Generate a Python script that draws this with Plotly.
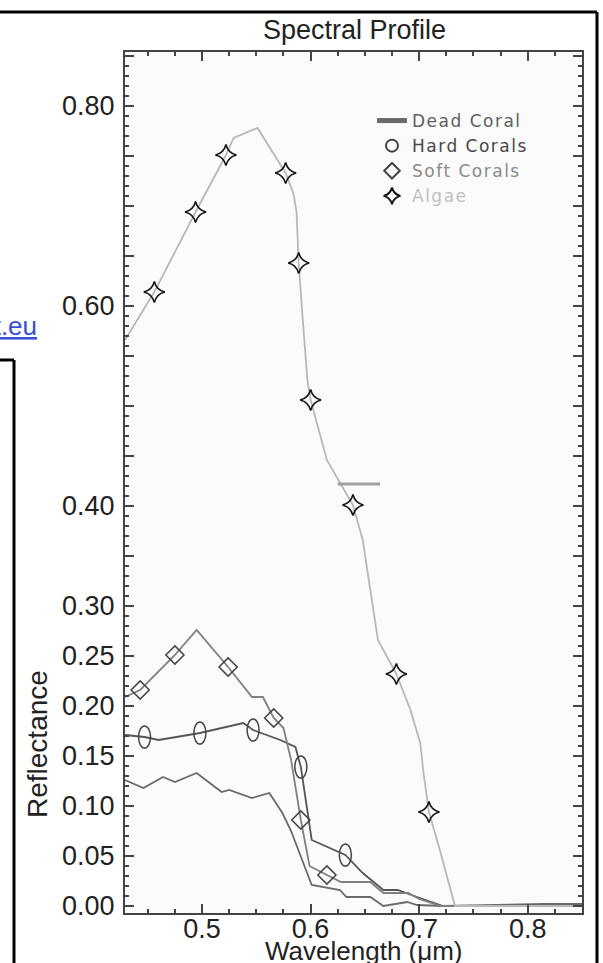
import plotly.graph_objects as go

# ---------------- data ----------------
algae_wl = [0.429, 0.456, 0.494, 0.522, 0.529, 0.551, 0.577, 0.584, 0.587, 0.589,
            0.593, 0.597, 0.600, 0.615, 0.624, 0.639, 0.648, 0.656, 0.662, 0.679,
            0.692, 0.701, 0.704, 0.709, 0.719, 0.733, 0.850]
algae_r = [0.566, 0.614, 0.694, 0.751, 0.768, 0.778, 0.733, 0.713, 0.695, 0.643,
           0.583, 0.526, 0.506, 0.446, 0.429, 0.401, 0.366, 0.306, 0.266, 0.232,
           0.196, 0.163, 0.133, 0.094, 0.056, 0.000, 0.000]
algae_mk_wl = [0.456, 0.494, 0.522, 0.577, 0.589, 0.600, 0.639, 0.679, 0.709]
algae_mk_r = [0.614, 0.694, 0.751, 0.733, 0.643, 0.506, 0.401, 0.232, 0.094]

soft_wl = [0.429, 0.443, 0.475, 0.495, 0.524, 0.546, 0.556, 0.566, 0.575, 0.582,
           0.591, 0.599, 0.615, 0.628, 0.655, 0.667, 0.690, 0.700, 0.720, 0.850]
soft_r = [0.209, 0.216, 0.251, 0.276, 0.239, 0.209, 0.209, 0.188, 0.178, 0.146,
          0.086, 0.040, 0.031, 0.024, 0.024, 0.013, 0.013, 0.007, 0.000, 0.000]
soft_mk_wl = [0.443, 0.475, 0.524, 0.566, 0.591, 0.615]
soft_mk_r = [0.216, 0.251, 0.239, 0.188, 0.086, 0.031]

hard_wl = [0.429, 0.447, 0.460, 0.498, 0.538, 0.547, 0.572, 0.586, 0.591, 0.601,
           0.632, 0.648, 0.667, 0.680, 0.698, 0.722, 0.850]
hard_r = [0.171, 0.169, 0.166, 0.173, 0.183, 0.176, 0.166, 0.159, 0.139, 0.066,
          0.051, 0.033, 0.016, 0.016, 0.009, 0.000, 0.000]
hard_mk_wl = [0.447, 0.498, 0.547, 0.591, 0.632]
hard_mk_r = [0.169, 0.173, 0.176, 0.139, 0.051]

dead_wl = [0.429, 0.446, 0.464, 0.475, 0.495, 0.518, 0.525, 0.546, 0.562, 0.574,
           0.582, 0.590, 0.601, 0.627, 0.633, 0.655, 0.667, 0.689, 0.698, 0.722,
           0.815, 0.850]
dead_r = [0.126, 0.118, 0.129, 0.124, 0.133, 0.114, 0.116, 0.108, 0.113, 0.093,
          0.075, 0.053, 0.021, 0.016, 0.009, 0.009, 0.000, 0.004, 0.001, 0.000,
          0.002, 0.002]

stray_wl = [0.625, 0.664]
stray_r = [0.422, 0.422]

series_names = ["Dead Coral", "Hard Corals", "Soft Corals", "Algae"]

y_tick_vals = [0.00, 0.05, 0.10, 0.15, 0.20, 0.25, 0.30, 0.35, 0.40, 0.45,
               0.50, 0.55, 0.60, 0.65, 0.70, 0.75, 0.80, 0.85]
y_tick_text = ["0.00", "0.05", "0.10", "0.15", "0.20", "0.25", "0.30", "", "0.40", "",
               "", "", "0.60", "", "", "", "0.80", ""]
x_tick_vals = [0.5, 0.6, 0.7, 0.8]
x_tick_text = ["0.5", "0.6", "0.7", "0.8"]

# ---------------- layout geometry ----------------
W, H = 603, 963
ML, MR, MT, MB = 125, 21, 52, 50
PW, PH = W - ML - MR, H - MT - MB


def px(x):
    return (x - ML) / PW


def py(y):
    return (H - MB - y) / PH


FONT = "Liberation Sans, Arial, sans-serif"
LEG_FONT = "DejaVu Sans, Verdana, sans-serif"
LS = "letter-spacing:1.5px;"

fig = go.Figure()

# lines
fig.add_trace(go.Scatter(x=dead_wl, y=dead_r, mode="lines",
                         name=f"<span style='color:#5e5e5e;{LS}'>{series_names[0]}</span>",
                         line=dict(color="#6a6a6a", width=1.8)))
fig.add_trace(go.Scatter(x=hard_wl, y=hard_r, mode="lines", showlegend=False,
                         line=dict(color="#555555", width=1.8)))
fig.add_trace(go.Scatter(x=soft_wl, y=soft_r, mode="lines", showlegend=False,
                         line=dict(color="#808080", width=1.8)))
fig.add_trace(go.Scatter(x=algae_wl, y=algae_r, mode="lines", showlegend=False,
                         line=dict(color="#b8b8b8", width=1.8)))
fig.add_trace(go.Scatter(x=stray_wl, y=stray_r, mode="lines", showlegend=False,
                         line=dict(color="#a0a0a0", width=3)))

# markers
fig.add_trace(go.Scatter(x=[None], y=[None], mode="markers",
                         name=f"<span style='color:#474747;{LS}'>{series_names[1]}</span>",
                         marker=dict(symbol="circle-open", size=14, color="#444444",
                                     line=dict(width=1.5, color="#444444"))))
fig.add_trace(go.Scatter(x=soft_mk_wl, y=soft_mk_r, mode="markers",
                         name=f"<span style='color:#8a8a8a;{LS}'>{series_names[2]}</span>",
                         marker=dict(symbol="diamond-open", size=14, color="#444444",
                                     line=dict(width=1.5, color="#444444"))))
fig.add_trace(go.Scatter(x=algae_mk_wl, y=algae_mk_r, mode="markers",
                         name=f"<span style='color:#c0c0c0;{LS}'>{series_names[3]}</span>",
                         marker=dict(symbol="star-diamond-open", size=15, color="#151515",
                                     line=dict(width=1.6, color="#151515"))))

# hard coral ellipse markers (anchored on data, pixel-sized)
for xv, yv in zip(hard_mk_wl, hard_mk_r):
    fig.add_shape(type="circle", xref="x", yref="y", xsizemode="pixel", ysizemode="pixel",
                  xanchor=xv, yanchor=yv, x0=-6, x1=6, y0=-11, y1=11,
                  line=dict(color="#444444", width=1.5), fillcolor="rgba(0,0,0,0)")

# page frame lines
frame = dict(color="black", width=3)
fig.add_shape(type="line", xref="paper", yref="paper", x0=px(0), x1=px(597), y0=py(12), y1=py(12), line=frame)
fig.add_shape(type="line", xref="paper", yref="paper", x0=px(597), x1=px(597), y0=py(12), y1=py(963), line=frame)
fig.add_shape(type="line", xref="paper", yref="paper", x0=px(0), x1=px(14), y0=py(360), y1=py(360), line=frame)
fig.add_shape(type="line", xref="paper", yref="paper", x0=px(14), x1=px(14), y0=py(360), y1=py(963), line=frame)

fig.add_annotation(text="<u>rt.eu</u>", xref="paper", yref="paper", x=px(39), y=py(326),
                   xanchor="right", yanchor="middle", showarrow=False,
                   font=dict(family=FONT, size=26, color="#3a4fd6"))

# titles
fig.add_annotation(text="Spectral Profile", xref="paper", yref="paper", x=px(354), y=py(30),
                   xanchor="center", yanchor="middle", showarrow=False,
                   font=dict(family=FONT, size=27, color="#222222"))
fig.add_annotation(text="Wavelength (\u03bcm)", xref="paper", yref="paper", x=px(364), y=py(951),
                   xanchor="center", yanchor="middle", showarrow=False,
                   font=dict(family=FONT, size=26, color="#222222"))
fig.add_annotation(text="Reflectance", xref="paper", yref="paper", x=px(37), y=py(744),
                   xanchor="center", yanchor="middle", showarrow=False, textangle=-90,
                   font=dict(family=FONT, size=28, color="#222222"))

axis_common = dict(showline=True, linecolor="#444444", linewidth=2, mirror="ticks",
                   ticks="inside", tickcolor="#444444", tickwidth=1.5, ticklen=9,
                   showgrid=False, zeroline=False, automargin=False,
                   tickfont=dict(family=FONT, size=27, color="#222222"))

fig.update_xaxes(range=[0.429, 0.850], tickmode="array", tickvals=x_tick_vals, ticktext=x_tick_text,
                 minor=dict(tickmode="linear", tick0=0.0, dtick=0.025, ticks="inside", ticklen=4,
                            tickcolor="#444444", tickwidth=1.5, showgrid=False),
                 ticklabelstandoff=-9, **axis_common)
fig.update_yaxes(range=[-0.007, 0.854], tickmode="array", tickvals=y_tick_vals, ticktext=y_tick_text,
                 minor=dict(tickmode="linear", tick0=0.0, dtick=0.01, ticks="inside", ticklen=4,
                            tickcolor="#444444", tickwidth=1.5, showgrid=False),
                 ticklabelstandoff=3, **axis_common)

fig.update_layout(
    width=W, height=H,
    margin=dict(l=ML, r=MR, t=MT, b=MB, autoexpand=False),
    paper_bgcolor="white", plot_bgcolor="#fbfbfb",
    font=dict(family=FONT, color="#222222"),
    legend=dict(x=px(372), y=py(103), xanchor="left", yanchor="top",
                bgcolor="rgba(0,0,0,0)", font=dict(family=LEG_FONT, size=17, color="#555555"),
                tracegroupgap=0, itemsizing="constant"),
)

fig.write_html("out.html", config={"displayModeBar": False},
               post_script="document.body.style.margin='0';document.body.style.overflow='hidden';")
